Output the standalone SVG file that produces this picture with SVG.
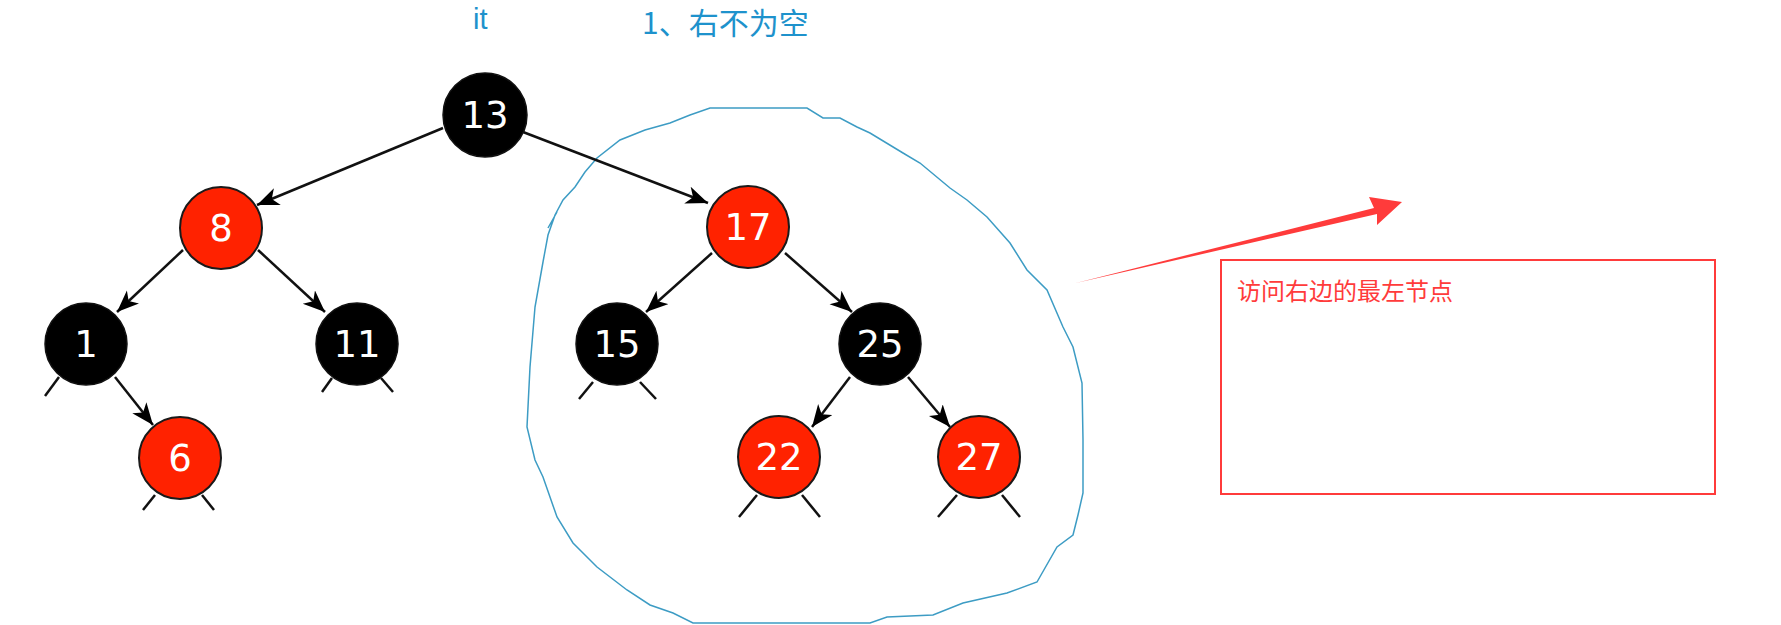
<svg xmlns="http://www.w3.org/2000/svg" width="1781" height="625" viewBox="0 0 1781 625">
<style>
.blk{fill:#000;stroke:#111;stroke-width:1.5}
.red{fill:#ff2200;stroke:#1a1a1a;stroke-width:2}
.lbl{fill:#fff;font-family:"DejaVu Sans",sans-serif;font-size:37px;text-anchor:middle}
.edge{stroke:#111;stroke-width:2.5;fill:none;marker-end:url(#ah)}
.stub{stroke:#111;stroke-width:2.5;fill:none}
.note{font-family:"Noto Sans CJK SC",sans-serif}
</style>
<defs>
<marker id="ah" markerUnits="userSpaceOnUse" markerWidth="24" markerHeight="20" refX="22" refY="9" orient="auto">
<path d="M0,0 L22,9 L0,18 L6,9 z" fill="#000"/>
</marker>
</defs>
<rect width="1781" height="625" fill="#fff"/>

<g id="top-labels" fill="#1e92cc">
<text x="473" y="29" font-size="29" font-family="'Liberation Sans', sans-serif">it</text>
<text class="note" x="642" y="34" font-size="30">1、右不为空</text>
</g>

<g id="hand-loop">
<path d="M543,262 L548,235 L555,215 L563,200 L575,187 L585,172 L597,158 L620,140 L645,130 L670,123 L690,115 L710,108 L807,108 L823,118 L840,118 L857,127 L870,133 L903,153 L920,163 L950,188 L967,200 L987,217 L1010,243 L1027,270 L1047,290 L1063,327 L1073,347 L1082,383 L1083,440 L1083,493 L1078,515 L1073,535 L1057,547 L1037,582 L1007,593 L963,603 L933,615 L887,617 L870,623 L693,623 L673,613 L650,605 L627,590 L597,567 L573,543 L557,517 L543,477 L535,460 L527,427 L530,367 L535,307 L543,262 M548,228 L557,212" fill="none" stroke="#3d9cc4" stroke-width="1.5"/>
</g>

<g id="connectors">
<line class="edge" x1="443" y1="128" x2="257" y2="205"/>
<line class="edge" x1="523" y1="132" x2="708" y2="203"/>
<line class="edge" x1="183" y1="250" x2="117" y2="312"/>
<line class="edge" x1="258" y1="250" x2="325" y2="312"/>
<line class="edge" x1="115" y1="377" x2="153" y2="425"/>
<line class="edge" x1="712" y1="253" x2="646" y2="312"/>
<line class="edge" x1="785" y1="253" x2="852" y2="312"/>
<line class="edge" x1="850" y1="377" x2="812" y2="427"/>
<line class="edge" x1="908" y1="377" x2="950" y2="427"/>
<line class="stub" x1="59" y1="377" x2="45" y2="396"/>
<line class="stub" x1="332" y1="378" x2="322" y2="392"/>
<line class="stub" x1="381" y1="378" x2="393" y2="392"/>
<line class="stub" x1="155" y1="495" x2="143" y2="510"/>
<line class="stub" x1="202" y1="495" x2="214" y2="510"/>
<line class="stub" x1="593" y1="382" x2="579" y2="399"/>
<line class="stub" x1="640" y1="382" x2="656" y2="399"/>
<line class="stub" x1="757" y1="495" x2="739" y2="517"/>
<line class="stub" x1="802" y1="495" x2="820" y2="517"/>
<line class="stub" x1="957" y1="495" x2="938" y2="517"/>
<line class="stub" x1="1002" y1="495" x2="1020" y2="517"/>
</g>

<g id="n13"><circle class="blk" cx="485" cy="115" r="42"/><text class="lbl" x="485" y="128">13</text></g>
<g id="n8"><circle class="red" cx="221" cy="228" r="41"/><text class="lbl" x="221" y="241">8</text></g>
<g id="n1"><circle class="blk" cx="86" cy="344" r="41"/><text class="lbl" x="86" y="357">1</text></g>
<g id="n11"><circle class="blk" cx="357" cy="344" r="41"/><text class="lbl" x="357" y="357">11</text></g>
<g id="n6"><circle class="red" cx="180" cy="458" r="41"/><text class="lbl" x="180" y="471">6</text></g>
<g id="n17"><circle class="red" cx="748" cy="227" r="41"/><text class="lbl" x="748" y="240">17</text></g>
<g id="n15"><circle class="blk" cx="617" cy="344" r="41"/><text class="lbl" x="617" y="357">15</text></g>
<g id="n25"><circle class="blk" cx="880" cy="344" r="41"/><text class="lbl" x="880" y="357">25</text></g>
<g id="n22"><circle class="red" cx="779" cy="457" r="41"/><text class="lbl" x="779" y="470">22</text></g>
<g id="n27"><circle class="red" cx="979" cy="457" r="41"/><text class="lbl" x="979" y="470">27</text></g>

<g id="red-arrow">
<polygon points="1076,283 1374,208 1369,197 1402,202 1377,225 1377,214" fill="#ff3b3b"/>
</g>

<g id="note-box">
<rect x="1221" y="260" width="494" height="234" fill="none" stroke="#ff3b3b" stroke-width="2"/>
<text class="note" x="1237" y="300" font-size="24" fill="#ff3b3b">访问右边的最左节点</text>
</g>
</svg>
